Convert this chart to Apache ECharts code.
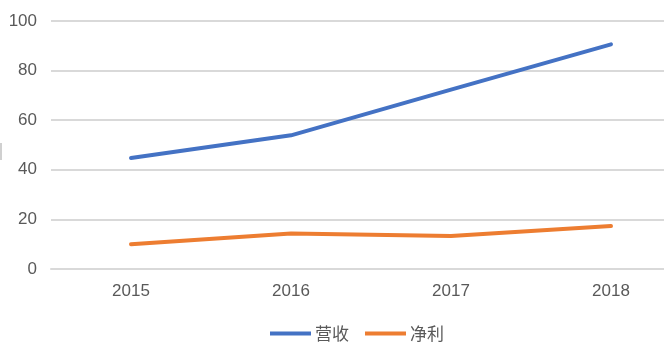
<!DOCTYPE html>
<html><head><meta charset="utf-8">
<script src="https://cdn.jsdelivr.net/npm/echarts@6/dist/echarts.min.js"></script>
<style>html,body{margin:0;padding:0;background:#fff;overflow:hidden}#c{width:691px;height:358px}</style>
</head><body><div id="c"></div>
<script>
const categories = ['2015', '2016', '2017', '2018'];
const revenue = [44.8, 53.9, 72.3, 90.6];
const profit = [10.0, 14.3, 13.3, 17.3];
const yTicks = [0, 20, 40, 60, 80, 100];
const seriesNames = ['营收', '净利'];

const chart = echarts.init(document.getElementById('c'), null, {renderer: 'canvas'});
const txt = '#595959';
chart.setOption({
  animation: false,
  backgroundColor: '#fff',
  grid: {left: 51, top: 21, right: 0, bottom: 89},
  legend: {
    data: seriesNames,
    top: 325, left: 270, padding: 0,
    icon: 'rect', itemWidth: 41, itemHeight: 4, itemGap: 16,
    textStyle: {color: txt, fontSize: 17, fontFamily: 'Noto Sans CJK SC', padding: [0,0,0,-1]}
  },
  xAxis: {
    type: 'category', data: categories, boundaryGap: true,
    axisLine: {show: true, lineStyle: {color: '#d9d9d9', width: 2}},
    axisTick: {show: false},
    axisLabel: {color: txt, fontSize: 17, fontFamily: 'Liberation Sans', margin: 14}
  },
  yAxis: {
    type: 'value', min: yTicks[0], max: yTicks[yTicks.length-1], interval: 20,
    axisLine: {show: false}, axisTick: {show: false},
    axisLabel: {color: txt, fontSize: 17, fontFamily: 'Liberation Sans', margin: 14},
    splitLine: {lineStyle: {color: '#d9d9d9', width: 2}}
  },
  series: [
    {name: seriesNames[0], type: 'line', data: revenue, showSymbol: false, symbol: 'none',
     lineStyle: {color: '#4472C4', width: 4, cap: 'round'}, itemStyle: {color: '#4472C4'}},
    {name: seriesNames[1], type: 'line', data: profit, showSymbol: false, symbol: 'none',
     lineStyle: {color: '#ED7D31', width: 4, cap: 'round'}, itemStyle: {color: '#ED7D31'}}
  ],
  graphic: [{type: 'rect', shape: {x: 0, y: 143, width: 2, height: 17}, style: {fill: '#d0d0d0'}}]
});
</script></body></html>
